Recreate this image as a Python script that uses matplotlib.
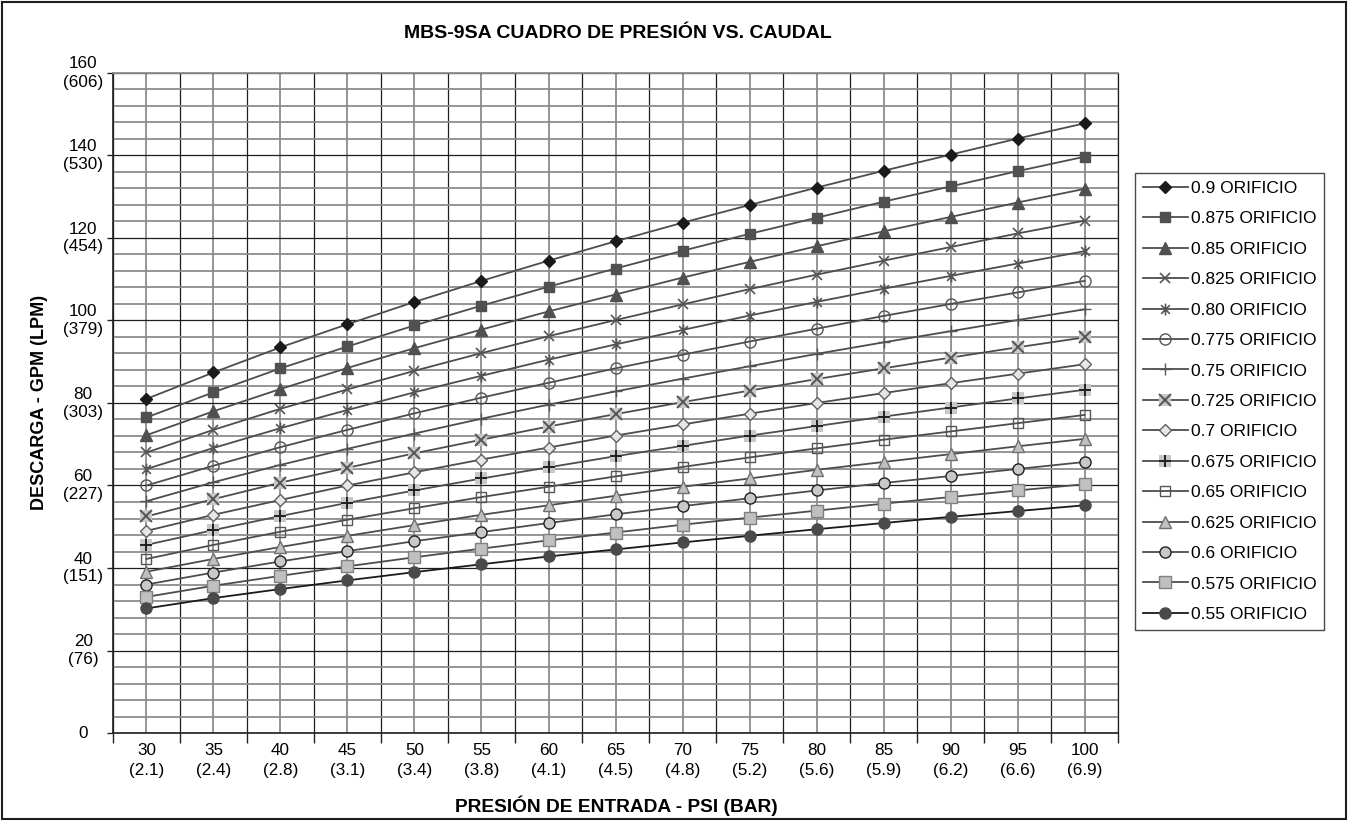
import matplotlib
matplotlib.use('Agg')
import matplotlib.pyplot as plt
from matplotlib.lines import Line2D
from matplotlib.legend_handler import HandlerTuple
from matplotlib.patches import Rectangle
from matplotlib.path import Path
from matplotlib.ticker import FixedLocator

plt.rcParams['font.family'] = ['Liberation Sans', 'DejaVu Sans']

# ---------------- data ----------------
psi = [30, 35, 40, 45, 50, 55, 60, 65, 70, 75, 80, 85, 90, 95, 100]
bar = ['2.1', '2.4', '2.8', '3.1', '3.4', '3.8', '4.1', '4.5', '4.8', '5.2',
       '5.6', '5.9', '6.2', '6.6', '6.9']
gpm_ticks = [0, 20, 40, 60, 80, 100, 120, 140, 160]
lpm_ticks = ['', '76', '151', '227', '303', '379', '454', '530', '606']

orifice_labels = ['0.9 ORIFICIO', '0.875 ORIFICIO', '0.85 ORIFICIO', '0.825 ORIFICIO',
                  '0.80 ORIFICIO', '0.775 ORIFICIO', '0.75 ORIFICIO', '0.725 ORIFICIO',
                  '0.7 ORIFICIO', '0.675 ORIFICIO', '0.65 ORIFICIO', '0.625 ORIFICIO',
                  '0.6 ORIFICIO', '0.575 ORIFICIO', '0.55 ORIFICIO']

flow_0900 = [81.0, 87.4, 93.5, 99.1, 104.5, 109.6, 114.5, 119.2, 123.7, 128.0, 132.2, 136.3, 140.2, 144.1, 147.8]
flow_0875 = [76.5, 82.6, 88.4, 93.7, 98.8, 103.6, 108.2, 112.6, 116.9, 121.0, 124.9, 128.8, 132.5, 136.2, 139.7]
flow_0850 = [72.2, 78.0, 83.4, 88.5, 93.3, 97.8, 102.2, 106.3, 110.4, 114.2, 118.0, 121.6, 125.1, 128.6, 131.9]
flow_0825 = [68.0, 73.5, 78.6, 83.3, 87.8, 92.1, 96.2, 100.1, 103.9, 107.6, 111.1, 114.5, 117.8, 121.1, 124.2]
flow_0800 = [64.0, 69.1, 73.9, 78.3, 82.6, 86.6, 90.5, 94.2, 97.7, 101.2, 104.5, 107.7, 110.8, 113.8, 116.8]
flow_0775 = [60.0, 64.8, 69.3, 73.5, 77.5, 81.3, 84.9, 88.4, 91.7, 94.9, 98.0, 101.1, 104.0, 106.8, 109.6]
flow_0750 = [56.2, 60.8, 65.0, 68.9, 72.6, 76.2, 79.6, 82.8, 85.9, 88.9, 91.9, 94.7, 97.4, 100.1, 102.7]
flow_0725 = [52.5, 56.7, 60.7, 64.3, 67.8, 71.1, 74.3, 77.3, 80.2, 83.0, 85.8, 88.4, 91.0, 93.5, 95.9]
flow_0700 = [49.0, 52.9, 56.5, 60.0, 63.2, 66.3, 69.2, 72.1, 74.8, 77.4, 80.0, 82.4, 84.8, 87.1, 89.4]
flow_0675 = [45.6, 49.2, 52.6, 55.8, 58.8, 61.7, 64.4, 67.1, 69.6, 72.1, 74.4, 76.7, 78.9, 81.1, 83.2]
flow_0650 = [42.2, 45.6, 48.8, 51.7, 54.5, 57.2, 59.7, 62.2, 64.5, 66.8, 69.0, 71.1, 73.1, 75.1, 77.1]
flow_0625 = [39.1, 42.2, 45.1, 47.8, 50.4, 52.9, 55.2, 57.5, 59.7, 61.7, 63.8, 65.7, 67.6, 69.5, 71.3]
flow_0600 = [36.0, 38.9, 41.6, 44.1, 46.5, 48.7, 50.9, 53.0, 55.0, 56.9, 58.8, 60.6, 62.3, 64.0, 65.7]
flow_0575 = [33.0, 35.7, 38.1, 40.4, 42.6, 44.7, 46.7, 48.6, 50.5, 52.2, 53.9, 55.6, 57.2, 58.8, 60.3]
flow_0550 = [30.2, 32.7, 34.9, 37.0, 39.0, 40.9, 42.8, 44.5, 46.2, 47.8, 49.4, 50.9, 52.4, 53.8, 55.2]

flows = [flow_0900, flow_0875, flow_0850, flow_0825, flow_0800, flow_0775, flow_0750,
         flow_0725, flow_0700, flow_0675, flow_0650, flow_0625, flow_0600, flow_0575, flow_0550]

# ---------------- styles ----------------
star = Path([(-1, -1), (1, 1), (-1, 1), (1, -1), (0, -1.35), (0, 1.35)],
            [Path.MOVETO, Path.LINETO, Path.MOVETO, Path.LINETO, Path.MOVETO, Path.LINETO])

LC = '#4d4d4d'
styles = [
    (LC, [('D', 6.5, '#1a1a1a', '#1a1a1a', 1.0)]),
    (LC, [('s', 7.5, '#505050', '#505050', 1.0)]),
    (LC, [('^', 8, '#505050', '#505050', 1.0)]),
    (LC, [('x', 7, 'none', '#555555', 1.2)]),
    (LC, [(star, 8.5, 'none', '#555555', 1.2)]),
    (LC, [('o', 8, 'none', '#555555', 1.0)]),
    (LC, [('+', 9, 'none', '#555555', 1.0)]),
    (LC, [('s', 9, '#c8c8c8', '#c8c8c8', 0.0), ('x', 8, 'none', '#555555', 1.4)]),
    (LC, [('D', 6, '#e6e6e6', '#606060', 1.0)]),
    (LC, [('s', 8.5, '#c8c8c8', '#c8c8c8', 0.0), ('+', 8, 'none', '#202020', 1.4)]),
    (LC, [('s', 7.5, 'none', '#555555', 1.0)]),
    (LC, [('^', 8, '#c0c0c0', '#707070', 1.0)]),
    (LC, [('o', 8, '#c8c8c8', '#202020', 1.0)]),
    (LC, [('s', 8, '#c0c0c0', '#808080', 1.0)]),
    ('#1a1a1a', [('o', 8, '#4a4a4a', '#4a4a4a', 1.0)]),
]

fig = plt.figure(figsize=(13.48, 8.21), dpi=100)
ax = fig.add_axes([113 / 1348, 1 - 733 / 821, (1118 - 113) / 1348, (733 - 73) / 821])

handles = []
for i, (ys, (lc, layers)) in enumerate(zip(flows, styles)):
    z = 3 + i * 0.01
    ax.plot(psi, ys, color=lc, lw=1.3, zorder=z)
    hs = []
    for j, (m, ms, mfc, mec, mew) in enumerate(layers):
        ax.plot(psi, ys, ls='none', marker=m, ms=ms, mfc=mfc, mec=mec, mew=mew, zorder=z + 2 + j * 0.001)
        hs.append(Line2D([], [], color=lc, lw=1.3 if j == 0 else 0, ls='-' if j == 0 else 'none',
                         marker=m, ms=ms, mfc=mfc, mec=mec, mew=mew))
    handles.append(tuple(hs))

ax.set_xlim(27.5, 102.5)
ax.set_ylim(0, 160)

# x ticks: labels at data, tick marks at category boundaries
ax.set_xticks(psi)
ax.set_xticklabels([f'{p}\n({b})' for p, b in zip(psi, bar)], fontsize=12.3, linespacing=1.4)
ax.xaxis.set_minor_locator(FixedLocator([27.5 + 5 * k for k in range(16)]))
ax.tick_params(axis='x', which='major', length=0, pad=7)
ax.tick_params(axis='x', which='minor', length=7, width=1, direction='out', color='#222222')

ax.set_yticks(gpm_ticks)
ylabs = ['0'] + [f'{g}\n({l})' for g, l in zip(gpm_ticks[1:], lpm_ticks[1:])]
ax.set_yticklabels(ylabs, fontsize=12.3, linespacing=1.25)
for t in ax.get_yticklabels():
    t.set_multialignment('center')
    t.set_horizontalalignment('center')
    t.set_verticalalignment('center')
ax.tick_params(axis='y', which='major', length=4.5, width=1, direction='out', color='#222222', pad=17)
ax.yaxis.set_minor_locator(FixedLocator([4 * k for k in range(41)]))
ax.tick_params(axis='y', which='minor', length=0)

ax.grid(which='major', axis='y', color='#1e1e1e', lw=0.9, zorder=1)
ax.grid(which='minor', axis='y', color='#8c8c8c', lw=1.3, zorder=0.9)
ax.grid(which='major', axis='x', color='#8c8c8c', lw=1.3, zorder=0.9)
ax.grid(which='minor', axis='x', color='#1e1e1e', lw=0.9, zorder=1)
ax.set_axisbelow(True)

for s in ['left', 'bottom']:
    ax.spines[s].set_color('#1e1e1e')
    ax.spines[s].set_linewidth(1.2)
ax.spines['top'].set_color('#8c8c8c')
ax.spines['top'].set_linewidth(1.3)
ax.spines['right'].set_color('#1e1e1e')
ax.spines['right'].set_linewidth(0.9)

leg = fig.legend(handles, orifice_labels, loc='upper left',
                 bbox_to_anchor=(1135 / 1348, 1 - 173 / 821),
                 handler_map={tuple: HandlerTuple(ndivide=1)},
                 fontsize=12.5, frameon=True, fancybox=False, shadow=False,
                 edgecolor='#1e1e1e', labelspacing=0.88, handlelength=2.6,
                 handletextpad=0.15, borderpad=0.45, borderaxespad=0, numpoints=1)
leg.get_frame().set_linewidth(1.0)

fig.text(618 / 1348, 1 - 34 / 821, 'MBS-9SA CUADRO DE PRESIÓN VS. CAUDAL',
         ha='center', va='center', fontsize=14, fontweight='bold')
fig.text(616 / 1348, 1 - 806 / 821, 'PRESIÓN DE ENTRADA - PSI (BAR)',
         ha='center', va='center', fontsize=13.8, fontweight='bold')
fig.text(40 / 1348, 1 - 402 / 821, 'DESCARGA - GPM (LPM)', rotation=90,
         ha='center', va='center', fontsize=13, fontweight='bold')

fig.patches.append(Rectangle((2 / 1348, 2 / 821), 1 - 4 / 1348, 1 - 4 / 821,
                             transform=fig.transFigure, fill=False,
                             edgecolor='#1e1e1e', lw=1.5))

fig.savefig('out.png', dpi=100)
